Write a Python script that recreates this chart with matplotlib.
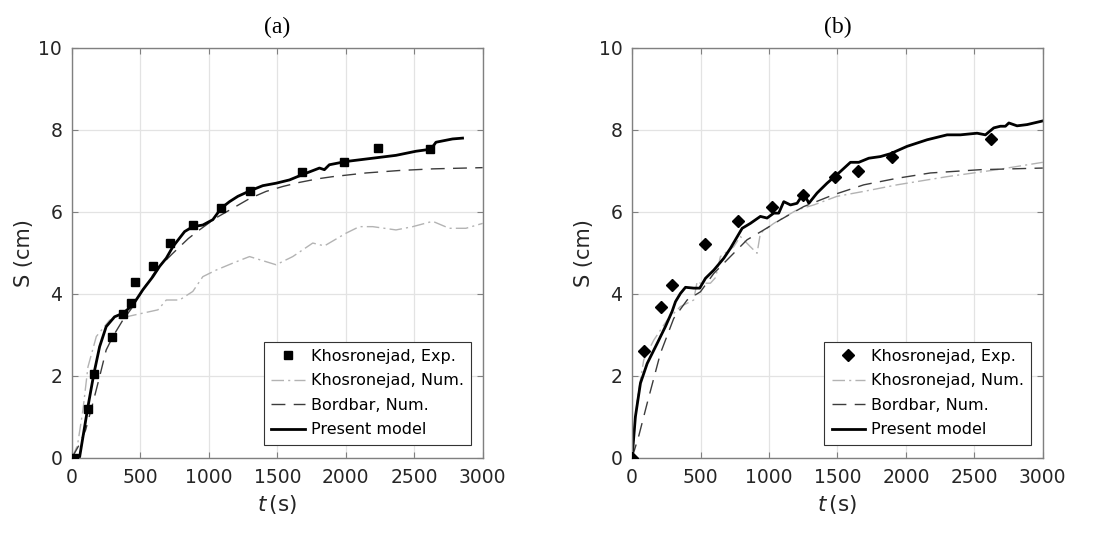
import matplotlib
matplotlib.use("Agg")
import matplotlib.pyplot as plt

# panel (a)
a_exp_t = [12, 117, 160, 294, 375, 428, 460, 589, 715, 883, 1090, 1304, 1684, 1988, 2234, 2616]
a_exp_s = [0.0, 1.19, 2.05, 2.95, 3.50, 3.78, 4.28, 4.67, 5.23, 5.68, 6.09, 6.50, 6.97, 7.21, 7.55, 7.53]

a_kn_t = [0, 40, 80, 117, 178, 275, 397, 518, 628, 689, 786, 883, 956, 1053, 1175, 1297, 1491,
          1613, 1759, 1844, 2002, 2099, 2197, 2367, 2489, 2635, 2756, 2878, 3000]
a_kn_s = [0.0, 0.3, 1.16, 2.22, 2.96, 3.36, 3.44, 3.53, 3.61, 3.85, 3.85, 4.06, 4.42, 4.58, 4.75,
          4.91, 4.71, 4.91, 5.24, 5.17, 5.48, 5.64, 5.64, 5.56, 5.64, 5.77, 5.60, 5.60, 5.72]

a_bb_t = [0, 50, 100, 150, 202, 250, 299, 370, 445, 518, 620, 737, 850, 931, 1050, 1175, 1300,
          1418, 1540, 1662, 1800, 1905, 2148, 2392, 2636, 3000]
a_bb_s = [0.0, 0.3, 0.68, 1.3, 1.98, 2.63, 2.96, 3.35, 3.69, 4.1, 4.6, 4.99, 5.35, 5.56, 5.85,
          6.09, 6.33, 6.5, 6.62, 6.72, 6.81, 6.86, 6.95, 7.01, 7.05, 7.08]

a_pm_t = [0, 56, 117, 160, 202, 250, 311, 375, 445, 518, 591, 640, 689, 737, 823, 883, 956, 1029,
          1090, 1151, 1212, 1304, 1394, 1491, 1589, 1684, 1808, 1844, 1880, 2002, 2148, 2367, 2513,
          2622, 2659, 2780, 2853]
a_pm_s = [0.0, 0.02, 1.25, 2.05, 2.71, 3.2, 3.44, 3.53, 3.73, 4.1, 4.42, 4.67, 4.87, 5.15, 5.52,
          5.64, 5.68, 5.81, 6.09, 6.25, 6.38, 6.52, 6.64, 6.70, 6.78, 6.91, 7.07, 7.03, 7.15, 7.23,
          7.29, 7.38, 7.48, 7.53, 7.70, 7.78, 7.80]

# panel (b)
b_exp_t = [0, 85, 214, 292, 533, 774, 1020, 1252, 1485, 1653, 1897, 2620]
b_exp_s = [0.0, 2.61, 3.67, 4.22, 5.21, 5.77, 6.12, 6.42, 6.84, 7.01, 7.35, 7.78]

b_kn_t = [0, 37, 85, 158, 256, 353, 450, 475, 499, 572, 610, 645, 742, 791, 864, 913, 937, 1035,
          1205, 1327, 1497, 1692, 1935, 2301, 2666, 3000]
b_kn_s = [0.0, 1.41, 2.39, 2.87, 3.36, 3.69, 3.85, 4.3, 4.26, 4.26, 4.4, 4.91, 5.15, 5.4, 5.15,
          4.99, 5.48, 5.72, 6.05, 6.17, 6.38, 6.50, 6.66, 6.86, 7.03, 7.21]

b_bb_t = [0, 50, 110, 207, 304, 402, 499, 597, 718, 840, 962, 1084, 1254, 1473, 1692, 1935, 2179,
          2544, 3000]
b_bb_s = [0.0, 0.55, 1.33, 2.55, 3.40, 3.85, 4.05, 4.50, 4.91, 5.32, 5.56, 5.81, 6.13, 6.42, 6.66,
          6.82, 6.95, 7.03, 7.07]

b_pm_t = [0, 24, 61, 110, 183, 243, 292, 317, 353, 390, 450, 494, 536, 597, 670, 718, 804, 864,
          937, 986, 1035, 1071, 1108, 1157, 1205, 1254, 1291, 1351, 1424, 1510, 1595, 1656, 1729,
          1814, 1887, 2009, 2155, 2301, 2398, 2520, 2581, 2642, 2690, 2727, 2752, 2812, 2885, 3000]
b_pm_s = [0.0, 1.0, 1.82, 2.30, 2.79, 3.2, 3.57, 3.81, 4.01, 4.16, 4.14, 4.14, 4.38, 4.58, 4.87,
          5.11, 5.60, 5.72, 5.89, 5.85, 5.97, 5.97, 6.25, 6.17, 6.21, 6.46, 6.21, 6.46, 6.70, 6.95,
          7.21, 7.21, 7.31, 7.35, 7.42, 7.60, 7.76, 7.88, 7.88, 7.92, 7.88, 8.05, 8.09, 8.09, 8.17,
          8.10, 8.13, 8.22]

labels = ["Khosronejad, Exp.", "Khosronejad, Num.", "Bordbar, Num.", "Present model"]
tick_col = "#262626"

plt.rcParams["mathtext.fontset"] = "dejavusans"

fig = plt.figure(figsize=(11.07, 5.45), dpi=100)
ax1 = fig.add_axes([0.065, 0.160, 0.371, 0.752])
ax2 = fig.add_axes([0.571, 0.160, 0.371, 0.752])

panels = [
    (ax1, "(a)", a_exp_t, a_exp_s, "s", 6, a_kn_t, a_kn_s, a_bb_t, a_bb_s, a_pm_t, a_pm_s),
    (ax2, "(b)", b_exp_t, b_exp_s, "D", 6.5, b_kn_t, b_kn_s, b_bb_t, b_bb_s, b_pm_t, b_pm_s),
]

for ax, ttl, et, es, mk, ms, kt, ks, bt, bs, pt, ps in panels:
    ax.plot(et, es, linestyle="none", marker=mk, markersize=ms, color="black", zorder=5)
    ax.plot(kt, ks, linestyle=(0, (9, 3, 1.5, 3)), color="#b3b3b3", linewidth=1.0)
    ax.plot(bt, bs, linestyle=(0, (10, 6)), color="#3c3c3c", linewidth=1.0)
    ax.plot(pt, ps, "-", color="black", linewidth=2.0)
    ax.set_xlim(0, 3000)
    ax.set_ylim(0, 10)
    ax.set_xticks([0, 500, 1000, 1500, 2000, 2500, 3000])
    ax.set_yticks([0, 2, 4, 6, 8, 10])
    ax.grid(True, color="#e3e3e3", linewidth=0.9)
    ax.set_axisbelow(True)
    for sp in ax.spines.values():
        sp.set_color("#808080")
        sp.set_linewidth(1.0)
    ax.tick_params(direction="in", length=4, color="#808080", labelcolor=tick_col,
                   labelsize=13.5, top=True, right=True, pad=7)
    ax.set_xlabel(r"$t\,$(s)", fontsize=15.5, color=tick_col, labelpad=5)
    ax.set_ylabel("S (cm)", fontsize=15, color=tick_col, labelpad=3)
    ax.set_title(ttl, family="Liberation Serif", fontsize=17, pad=11)
    leg = ax.legend(labels, loc="lower right", fontsize=11.5, frameon=True, fancybox=False,
                    edgecolor="#333333", framealpha=1, handlelength=2.1, handletextpad=0.35,
                    borderpad=0.45, labelspacing=0.6, borderaxespad=0,
                    bbox_to_anchor=(0.971, 0.032))
    leg.get_frame().set_linewidth(0.8)

fig.savefig("out.png", dpi=100)
